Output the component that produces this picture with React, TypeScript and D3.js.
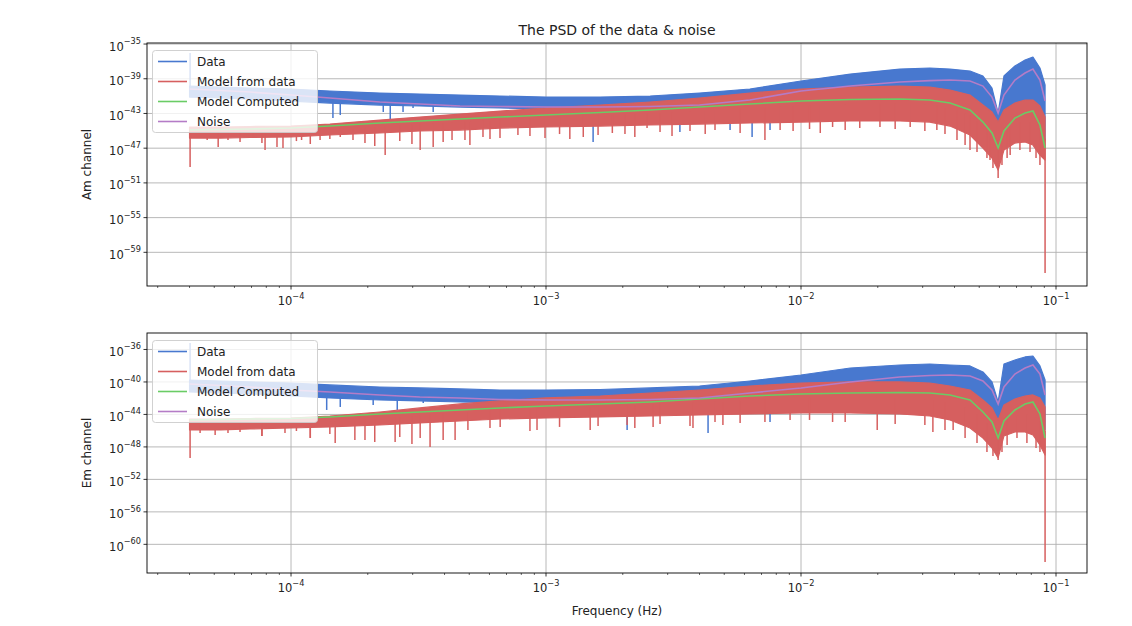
import React from "react";
import * as d3 from "d3";

const FREQ = [4.0e-5, 5.3e-5, 6.9e-5, 1.0e-4, 1.42e-4, 2.23e-4, 3.2e-4, 4.6e-4, 6.6e-4, 1.0e-3, 1.63e-3, 2.56e-3, 4.0e-3, 6.3e-3, 1.0e-2, 1.56e-2, 2.44e-2, 3.2e-2, 3.84e-2, 4.6e-2, 5.17e-2, 5.61e-2, 5.93e-2, 6.25e-2, 6.9e-2, 7.56e-2, 8.12e-2, 8.65e-2, 9.06e-2];

// ---- Am channel (log10 of PSD) ----
const AM_DATA_HI = [-39.84, -39.95, -40.07, -40.18, -40.41, -40.65, -40.76, -40.88, -40.99, -41.11, -41.11, -40.99, -40.65, -40.18, -39.26, -38.46, -37.88, -37.76, -37.88, -38.11, -38.69, -40.07, -42.95, -38.69, -37.53, -36.84, -36.5, -37.76, -39.72];
const AM_DATA_LO = [-41.11, -41.22, -41.34, -41.57, -41.8, -42.03, -42.14, -42.26, -42.37, -42.49, -42.6, -42.72, -42.83, -42.95, -42.95, -42.83, -42.83, -42.95, -43.18, -43.53, -44.1, -44.68, -45.25, -44.1, -42.95, -42.6, -42.6, -43.18, -46.06];
const AM_FIT_HI = [-44.56, -44.56, -44.5, -44.45, -44.22, -43.76, -43.41, -43.07, -42.72, -42.37, -42.03, -41.68, -41.22, -40.65, -40.18, -39.95, -39.84, -39.95, -40.3, -40.88, -42.03, -42.83, -43.99, -42.6, -41.8, -41.45, -41.45, -42.14, -43.41];
const AM_FIT_LO = [-45.83, -45.83, -45.77, -45.71, -45.48, -45.25, -45.02, -44.91, -44.68, -44.56, -44.45, -44.33, -44.22, -44.1, -43.99, -43.87, -43.87, -43.99, -44.45, -45.48, -46.98, -48.13, -49.52, -47.21, -46.41, -46.29, -46.64, -47.79, -48.36];
const AM_MODEL = [-44.91, -44.85, -44.79, -44.68, -44.45, -44.1, -43.87, -43.64, -43.41, -43.18, -42.89, -42.6, -42.26, -41.91, -41.57, -41.39, -41.34, -41.45, -41.8, -42.6, -43.99, -45.25, -46.98, -45.02, -43.53, -42.95, -42.72, -44.33, -46.98];
const AM_NOISE = [-40.18, -40.36, -40.53, -40.88, -41.22, -41.68, -41.91, -42.14, -42.2, -42.26, -42.26, -42.2, -42.03, -41.45, -40.41, -39.84, -39.38, -39.21, -39.15, -39.26, -39.84, -41.11, -42.95, -40.88, -39.15, -38.34, -37.88, -39.15, -41.57];
const AM_FIT_SPIKE_F = [4.02e-5, 4.69e-5, 5.18e-5, 6.31e-5, 7.1e-5, 7.91e-5, 8.81e-5, 9.3e-5, 1.1e-4, 1.3e-4, 1.56e-4, 1.75e-4, 2.34e-4, 3.61e-4, 4.28e-4, 4.81e-4, 5.03e-4, 5.66e-4, 7.76e-4, 1.4e-3, 1.82e-3, 2.49e-3, 7.22e-3, 8.28e-3, 1.33e-2, 2.04e-2, 3.41e-2, 4.09e-2, 4.9e-2, 5.51e-2, 5.93e-2, 6.61e-2, 7.91e-2, 9.06e-2,
  5.66e-5, 7.69e-5, 1.05e-4, 1.19e-4, 1.42e-4, 1.95e-4, 2.13e-4, 2.67e-4, 2.98e-4, 3.21e-4, 3.95e-4, 6.03e-4, 6.6e-4, 8.65e-4, 9.91e-4, 1.13e-3, 1.24e-3, 1.6e-3, 2.04e-3, 2.23e-3, 2.8e-3, 3.12e-3, 3.67e-3, 4.21e-3, 4.6e-3, 5.77e-3, 9.31e-3, 1.08e-2, 1.19e-2, 1.49e-2, 1.7e-2, 2.34e-2, 2.68e-2, 3.06e-2, 3.67e-2, 4.4e-2, 4.6e-2, 5.36e-2, 5.66e-2, 6.14e-2, 6.43e-2, 7.22e-2, 8.35e-2, 8.65e-2];
const AM_FIT_SPIKE_V = [-49.17, -46.06, -46.87, -46.29, -45.83, -47.21, -46.87, -46.98, -46.06, -46.06, -45.71, -46.06, -47.79, -46.87, -46.06, -46.06, -46.64, -45.71, -45.48, -45.71, -45.25, -44.68, -46.06, -44.91, -44.56, -44.56, -44.91, -46.06, -47.44, -48.36, -50.44, -47.79, -47.44, -61.38,
  -46.06, -46.41, -46.18, -46.52, -45.94, -46.41, -46.75, -46.18, -46.52, -47.21, -46.29, -45.94, -45.83, -45.6, -45.83, -45.37, -45.94, -45.48, -45.37, -45.71, -45.14, -45.6, -45.02, -45.37, -44.91, -45.25, -45.02, -44.79, -45.25, -44.91, -44.68, -44.79, -44.56, -45.02, -45.37, -46.64, -47.21, -48.13, -49.29, -48.94, -48.13, -47.21, -48.13, -48.94];
const AM_DATA_SPIKE_F = [4.02e-5, 1.46e-4, 1.56e-4, 2.3e-4, 2.45e-4, 2.75e-4, 3.01e-4, 3.61e-4, 4.21e-4, 1.53e-3, 3.35e-3, 5.27e-3, 6.43e-3, 7.56e-3];
const AM_DATA_SPIKE_V = [-36.04, -43.53, -43.18, -42.83, -43.76, -42.83, -42.37, -42.83, -42.26, -46.29, -45.14, -44.91, -45.71, -44.91];

// ---- Em channel (log10 of PSD) ----
const EM_DATA_HI = [-39.76, -39.88, -40.0, -40.13, -40.37, -40.62, -40.74, -40.86, -40.99, -40.99, -40.93, -40.74, -40.5, -39.88, -39.14, -38.28, -37.91, -37.79, -37.91, -38.03, -38.77, -40.0, -42.47, -37.79, -37.29, -36.92, -36.8, -38.03, -39.76];
const EM_DATA_LO = [-41.23, -41.36, -41.48, -41.73, -41.97, -42.22, -42.34, -42.47, -42.59, -42.71, -42.84, -42.96, -43.08, -43.08, -42.96, -42.84, -42.84, -42.96, -43.2, -43.7, -44.43, -45.17, -45.91, -44.43, -43.2, -42.84, -42.84, -43.45, -45.91];
const EM_FIT_HI = [-44.56, -44.56, -44.5, -44.44, -44.19, -43.7, -43.2, -42.71, -42.34, -41.97, -41.73, -41.36, -40.99, -40.5, -40.13, -40.0, -40.0, -40.13, -40.5, -40.99, -42.22, -43.2, -44.68, -42.84, -42.1, -41.73, -41.6, -41.97, -43.08];
const EM_FIT_LO = [-45.91, -45.91, -45.79, -45.67, -45.54, -45.3, -45.05, -44.81, -44.56, -44.44, -44.31, -44.19, -44.07, -43.94, -43.82, -43.82, -43.94, -44.19, -44.68, -45.67, -46.9, -48.13, -49.36, -46.65, -46.16, -46.16, -46.53, -47.76, -49.0];
const EM_MODEL = [-44.68, -44.62, -44.56, -44.5, -44.31, -43.94, -43.7, -43.45, -43.2, -42.96, -42.71, -42.47, -42.1, -41.73, -41.48, -41.36, -41.3, -41.36, -41.6, -42.22, -43.7, -44.93, -46.9, -44.8, -43.45, -42.71, -42.47, -43.94, -46.9];
const EM_NOISE = [-40.25, -40.43, -40.62, -40.99, -41.23, -41.6, -41.85, -41.97, -42.16, -42.22, -42.22, -42.16, -41.97, -41.36, -40.74, -40.0, -39.38, -39.2, -39.14, -39.26, -39.88, -40.99, -42.71, -40.62, -39.02, -38.28, -37.91, -39.02, -41.6];
const EM_FIT_SPIKE_F = [4.02e-5, 4.4e-5, 5.04e-5, 6.31e-5, 7.69e-5, 9.47e-5, 1.19e-4, 1.49e-4, 1.78e-4, 2.56e-4, 3.51e-4, 4.4e-4, 4.94e-4, 6.61e-4, 9.22e-4, 1.49e-3, 2.08e-3, 2.63e-3, 3.77e-3, 4.94e-3, 7.22e-3, 9.06e-3, 1.33e-2, 1.99e-2, 3.29e-2, 3.95e-2, 4.9e-2, 5.93e-2, 7.03e-2, 7.69e-2, 9.06e-2,
  5.66e-5, 7.69e-5, 1.05e-4, 1.19e-4, 1.42e-4, 1.95e-4, 2.13e-4, 2.67e-4, 2.98e-4, 3.21e-4, 3.95e-4, 6.03e-4, 8.65e-4, 1.13e-3, 1.6e-3, 2.23e-3, 2.8e-3, 3.67e-3, 4.6e-3, 5.77e-3, 1.08e-2, 1.49e-2, 2.34e-2, 3.06e-2, 3.67e-2, 4.4e-2, 5.36e-2, 5.66e-2, 6.14e-2, 6.43e-2, 8.35e-2, 8.65e-2];
const EM_FIT_SPIKE_V = [-49.36, -46.28, -46.53, -46.16, -46.65, -46.28, -46.9, -47.51, -47.15, -47.39, -48.01, -47.15, -45.91, -45.54, -45.91, -45.91, -45.3, -45.54, -45.67, -45.3, -44.93, -44.68, -44.93, -45.91, -46.16, -45.91, -47.51, -49.61, -46.9, -47.51, -62.17,
  -46.28, -46.65, -46.04, -46.9, -46.41, -47.15, -47.39, -46.78, -47.64, -46.9, -47.15, -45.67, -46.04, -45.54, -45.42, -45.67, -45.17, -45.42, -44.93, -45.05, -44.68, -44.93, -45.17, -45.3, -45.91, -46.9, -48.62, -49.11, -48.62, -47.76, -48.13, -48.62];
const EM_DATA_SPIKE_F = [4.02e-5, 1.38e-4, 1.56e-4, 2.1e-4, 2.61e-4, 3.3e-4, 2.08e-3, 4.32e-3, 7.56e-3];
const EM_DATA_SPIKE_V = [-35.2, -43.45, -43.08, -42.84, -43.45, -42.59, -45.91, -46.28, -44.93];

// ---- axes / labels ----
const X_LIMITS = [2.724e-5, 0.1323];
const X_MAJOR = [1e-4, 1e-3, 1e-2, 1e-1];
const TOP_Y_LIMITS_EXP = [-62.88, -34.88];
const BOTTOM_Y_LIMITS_EXP = [-63.53, -33.97];
const TOP_Y_TICKS = [-35, -39, -43, -47, -51, -55, -59];
const BOTTOM_Y_TICKS = [-36, -40, -44, -48, -52, -56, -60];
const LEGEND_LABELS = ["Data", "Model from data", "Model Computed", "Noise"];
const COLORS = ["#4878CF", "#D65F5F", "#6ACC65", "#B47CC7"];
const TITLE = "The PSD of the data & noise";
const X_LABEL = "Frequency (Hz)";

const W = 1132;
const H = 626;
const LEFT = 147;
const RIGHT = 1087;
const FONT = "DejaVu Sans, Liberation Sans, sans-serif";

const pw = (e: number) => Math.pow(10, e);
const sup = (n: number) => (n < 0 ? "\u2212" + Math.abs(n) : String(n));

type PanelData = {
  dataHi: number[]; dataLo: number[]; fitHi: number[]; fitLo: number[];
  model: number[]; noise: number[];
  fitSpikeF: number[]; fitSpikeV: number[]; dataSpikeF: number[]; dataSpikeV: number[];
};

function Panel({ top, bottom, yLim, yTicks, yLabel, d, xLabel }: {
  top: number; bottom: number; yLim: number[]; yTicks: number[]; yLabel: string; d: PanelData; xLabel?: string;
}) {
  const x = d3.scaleLog().domain(X_LIMITS).range([LEFT, RIGHT]);
  const y = d3.scaleLog().domain([pw(yLim[0]), pw(yLim[1])]).range([bottom, top]);
  const logF = FREQ.map(Math.log10);

  const band = (hi: number[], lo: number[]) =>
    d3.area<number>()
      .x((f) => x(f))
      .y0((_, i) => y(pw(lo[i])))
      .y1((_, i) => y(pw(hi[i])))(FREQ) || "";
  const curve = (v: number[]) =>
    d3.line<number>().x((f) => x(f)).y((_, i) => y(pw(v[i])))(FREQ) || "";
  const spikes = (fs: number[], vs: number[], hi: number[], lo: number[]) => {
    const ih = d3.scaleLinear().domain(logF).range(hi).clamp(true);
    const il = d3.scaleLinear().domain(logF).range(lo).clamp(true);
    return fs.map((f, i) => {
      const lf = Math.log10(f);
      const mid = (ih(lf) + il(lf)) / 2;
      return { x: x(f), y0: y(pw(mid)), y1: y(pw(vs[i])) };
    });
  };

  const minor: number[] = [];
  for (let k = -5; k <= -1; k++) for (let m = 2; m <= 9; m++) {
    const v = m * Math.pow(10, k);
    if (v >= X_LIMITS[0] && v <= X_LIMITS[1]) minor.push(v);
  }

  const dataSp = spikes(d.dataSpikeF, d.dataSpikeV, d.dataHi, d.dataLo);
  const fitSp = spikes(d.fitSpikeF, d.fitSpikeV, d.fitHi, d.fitLo);
  const legTop = top + 7.5;
  const midY = (top + bottom) / 2;

  return (
    <g fontFamily={FONT}>
      {/* grid */}
      {yTicks.map((t) => (
        <line key={"gy" + t} x1={LEFT} x2={RIGHT} y1={y(pw(t))} y2={y(pw(t))} stroke="#b0b0b0" strokeWidth={0.9} />
      ))}
      {X_MAJOR.map((t) => (
        <line key={"gx" + t} x1={x(t)} x2={x(t)} y1={top} y2={bottom} stroke="#b0b0b0" strokeWidth={0.9} />
      ))}
      {/* Data */}
      <path d={band(d.dataHi, d.dataLo)} fill={COLORS[0]} stroke={COLORS[0]} strokeWidth={1.2} strokeLinejoin="round" />
      {dataSp.map((s, i) => (
        <line key={"ds" + i} x1={s.x} x2={s.x} y1={s.y0} y2={s.y1} stroke={COLORS[0]} strokeWidth={1.5} />
      ))}
      {/* Model from data */}
      <path d={band(d.fitHi, d.fitLo)} fill={COLORS[1]} stroke={COLORS[1]} strokeWidth={1.2} strokeLinejoin="round" />
      {fitSp.map((s, i) => (
        <line key={"fs" + i} x1={s.x} x2={s.x} y1={s.y0} y2={s.y1} stroke={COLORS[1]} strokeWidth={1.5} />
      ))}
      {/* Model computed & noise */}
      <path d={curve(d.model)} fill="none" stroke={COLORS[2]} strokeWidth={1.6} />
      <path d={curve(d.noise)} fill="none" stroke={COLORS[3]} strokeWidth={1.6} />

      {/* frame */}
      <rect x={LEFT} y={top} width={RIGHT - LEFT} height={bottom - top} fill="none" stroke="#000" strokeWidth={0.9} />

      {/* y ticks */}
      {yTicks.map((t) => (
        <g key={"ty" + t}>
          <line x1={LEFT - 3.5} x2={LEFT} y1={y(pw(t))} y2={y(pw(t))} stroke="#000" strokeWidth={0.8} />
          <text x={LEFT - 6} y={y(pw(t)) + 6.5} textAnchor="end" fontSize={11.5} fill="#222">
            10<tspan dy={-6.5} fontSize={8.2}>{sup(t)}</tspan>
          </text>
        </g>
      ))}
      {/* x ticks */}
      {X_MAJOR.map((t) => (
        <g key={"tx" + t}>
          <line x1={x(t)} x2={x(t)} y1={bottom} y2={bottom + 3.5} stroke="#000" strokeWidth={0.8} />
          <text x={x(t)} y={bottom + 19} textAnchor="middle" fontSize={11.5} fill="#222">
            10<tspan dy={-6} fontSize={8.2}>{sup(Math.round(Math.log10(t)))}</tspan>
          </text>
        </g>
      ))}
      {minor.map((t) => (
        <line key={"mx" + t} x1={x(t)} x2={x(t)} y1={bottom} y2={bottom + 2} stroke="#000" strokeWidth={0.6} />
      ))}

      {/* y label */}
      <text transform={`translate(${91},${midY}) rotate(-90)`} textAnchor="middle" fontSize={12} fill="#222">
        {yLabel}
      </text>
      {xLabel && (
        <text x={(LEFT + RIGHT) / 2} y={bottom + 42} textAnchor="middle" fontSize={12} fill="#222">
          {xLabel}
        </text>
      )}

      {/* legend */}
      <rect x={152.5} y={legTop} width={165} height={82} rx={3} fill="#fff" fillOpacity={0.8} stroke="#cccccc" strokeWidth={0.9} />
      {LEGEND_LABELS.map((lab, i) => {
        const ly = legTop + 11 + i * 20;
        return (
          <g key={lab}>
            <line x1={158} x2={187} y1={ly} y2={ly} stroke={COLORS[i]} strokeWidth={1.6} />
            <text x={197} y={ly + 4.5} fontSize={12} fill="#222">{lab}</text>
          </g>
        );
      })}
    </g>
  );
}

export default function App() {
  const am: PanelData = {
    dataHi: AM_DATA_HI, dataLo: AM_DATA_LO, fitHi: AM_FIT_HI, fitLo: AM_FIT_LO,
    model: AM_MODEL, noise: AM_NOISE,
    fitSpikeF: AM_FIT_SPIKE_F, fitSpikeV: AM_FIT_SPIKE_V, dataSpikeF: AM_DATA_SPIKE_F, dataSpikeV: AM_DATA_SPIKE_V,
  };
  const em: PanelData = {
    dataHi: EM_DATA_HI, dataLo: EM_DATA_LO, fitHi: EM_FIT_HI, fitLo: EM_FIT_LO,
    model: EM_MODEL, noise: EM_NOISE,
    fitSpikeF: EM_FIT_SPIKE_F, fitSpikeV: EM_FIT_SPIKE_V, dataSpikeF: EM_DATA_SPIKE_F, dataSpikeV: EM_DATA_SPIKE_V,
  };
  return (
    <svg width={W} height={H} style={{ position: "absolute", left: 0, top: 0, background: "#fff" }}>
      <rect width={W} height={H} fill="#fff" />
      <text x={(LEFT + RIGHT) / 2} y={35} textAnchor="middle" fontSize={14} fontFamily={FONT} fill="#222">
        {TITLE}
      </text>
      <Panel top={43} bottom={286} yLim={TOP_Y_LIMITS_EXP} yTicks={TOP_Y_TICKS} yLabel="Am channel" d={am} />
      <Panel top={333} bottom={573} yLim={BOTTOM_Y_LIMITS_EXP} yTicks={BOTTOM_Y_TICKS} yLabel="Em channel" d={em} xLabel={X_LABEL} />
    </svg>
  );
}
